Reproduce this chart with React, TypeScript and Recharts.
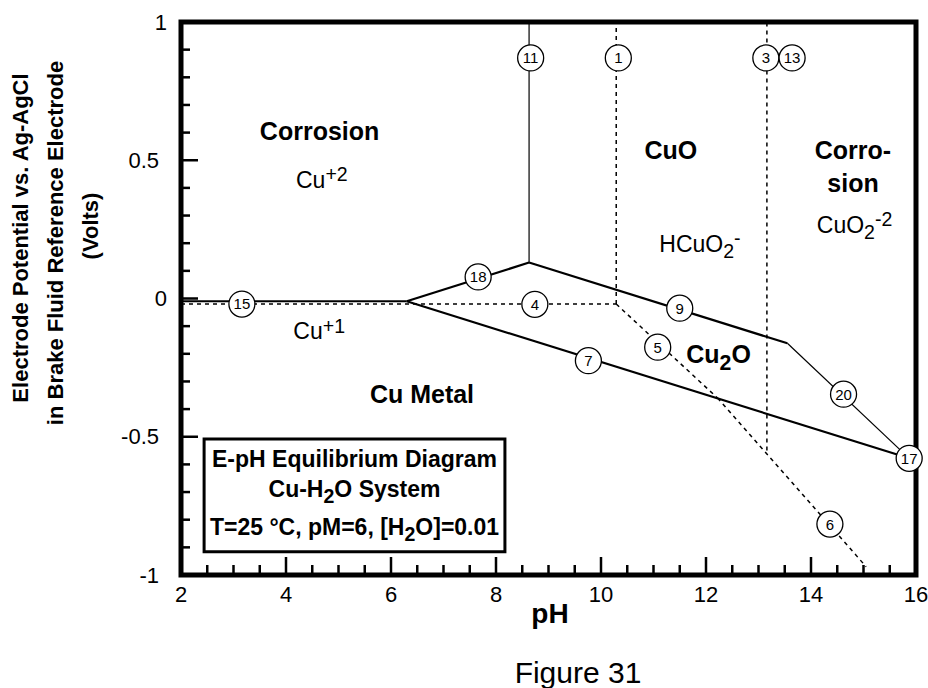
import React from 'react';
import {
  ComposedChart,
  Line,
  Scatter,
  XAxis,
  YAxis,
  ReferenceArea,
  Label,
} from 'recharts';

const FONT = '"Liberation Sans", Arial, Helvetica, sans-serif';

// tick values (minor every 0.5 pH / 0.1 V)
const phTicks = [2, 2.5, 3, 3.5, 4, 4.5, 5, 5.5, 6, 6.5, 7, 7.5, 8, 8.5, 9, 9.5, 10, 10.5, 11, 11.5, 12, 12.5, 13, 13.5, 14, 14.5, 15, 15.5, 16];
const eTicks = [-1, -0.9, -0.8, -0.7, -0.6, -0.5, -0.4, -0.3, -0.2, -0.1, 0, 0.1, 0.2, 0.3, 0.4, 0.5, 0.6, 0.7, 0.8, 0.9, 1];

// solid equilibrium lines
const line15 = [{ ph: 2, e: -0.01 }, { ph: 6.3, e: -0.01 }];
const line18 = [{ ph: 6.3, e: -0.01 }, { ph: 8.63, e: 0.13 }];
const line11 = [{ ph: 8.63, e: 0.13 }, { ph: 8.63, e: 1 }];
const line9 = [{ ph: 8.63, e: 0.13 }, { ph: 13.55, e: -0.162 }];
const line20 = [{ ph: 13.55, e: -0.162 }, { ph: 15.87, e: -0.578 }];
const line7 = [{ ph: 6.3, e: -0.01 }, { ph: 15.87, e: -0.578 }];

// dashed lines
const line4 = [{ ph: 2, e: -0.02 }, { ph: 10.29, e: -0.02 }];
const line1 = [{ ph: 10.29, e: -0.02 }, { ph: 10.29, e: 1 }];
const line3 = [{ ph: 13.16, e: -0.55 }, { ph: 13.16, e: 1 }];
const line5 = [{ ph: 10.29, e: -0.02 }, { ph: 12.22, e: -0.36 }];
const line6 = [{ ph: 12.22, e: -0.36 }, { ph: 15.05, e: -0.97 }];

// numbered circles
const markers = [
  { ph: 3.16, e: -0.02, n: '15' },
  { ph: 7.66, e: 0.078, n: '18' },
  { ph: 8.66, e: 0.87, n: '11' },
  { ph: 10.33, e: 0.87, n: '1' },
  { ph: 13.14, e: 0.87, n: '3' },
  { ph: 13.64, e: 0.87, n: '13' },
  { ph: 8.74, e: -0.021, n: '4' },
  { ph: 11.5, e: -0.035, n: '9' },
  { ph: 11.08, e: -0.176, n: '5' },
  { ph: 9.76, e: -0.225, n: '7' },
  { ph: 14.62, e: -0.346, n: '20' },
  { ph: 15.87, e: -0.578, n: '17' },
  { ph: 14.36, e: -0.816, n: '6' },
];

// region names (bold, centred)
const regionNames = [
  { ph: 4.64, e: 0.573, parts: [{ t: 'Corrosion' }] },
  { ph: 11.33, e: 0.505, parts: [{ t: 'CuO' }] },
  { ph: 14.8, e: 0.505, parts: [{ t: 'Corro-' }] },
  { ph: 14.8, e: 0.386, parts: [{ t: 'sion' }] },
  { ph: 6.59, e: -0.377, parts: [{ t: 'Cu Metal' }] },
  { ph: 12.24, e: -0.234, parts: [{ t: 'Cu' }, { t: '2', sub: true }, { t: 'O' }] },
];

// dissolved species (regular, left aligned)
const speciesNames = [
  { ph: 4.19, e: 0.4, parts: [{ t: 'Cu' }, { t: '+2', sup: true }] },
  { ph: 11.11, e: 0.169, parts: [{ t: 'HCuO' }, { t: '2', sub: true }, { t: '-', sup: true }] },
  { ph: 14.11, e: 0.237, parts: [{ t: 'CuO' }, { t: '2', sub: true }, { t: '-2', sup: true }] },
  { ph: 4.14, e: -0.148, parts: [{ t: 'Cu' }, { t: '+1', sup: true }] },
];

const boxLines = [
  [{ t: 'E-pH Equilibrium Diagram' }],
  [{ t: 'Cu-H' }, { t: '2', sub: true }, { t: 'O System' }],
  [{ t: 'T=25 °C, pM=6, [H' }, { t: '2', sub: true }, { t: 'O]=0.01' }],
];

type Part = { t: string; sub?: boolean; sup?: boolean };

function Rich({ x, y, parts, size, bold, anchor }: any) {
  let shift = 0;
  return (
    <text
      x={x}
      y={y}
      textAnchor={anchor}
      fontSize={size}
      fontWeight={bold ? 'bold' : 'normal'}
      fontFamily={FONT}
      fill="#000"
    >
      {(parts as Part[]).map((p, i) => {
        const target = p.sub ? size * 0.27 : p.sup ? -size * 0.3 : 0;
        const dy = target - shift;
        shift = target;
        return (
          <tspan key={i} dy={dy} fontSize={p.sub || p.sup ? size * 0.85 : size}>
            {p.t}
          </tspan>
        );
      })}
    </text>
  );
}

const isMajorPh = (v: number) => Math.abs(v / 2 - Math.round(v / 2)) < 1e-6;
const isMajorE = (v: number) => Math.abs(v * 2 - Math.round(v * 2)) < 1e-6;

function BottomTick({ x, y, payload }: any) {
  const v = payload.value;
  const major = isMajorPh(v);
  return (
    <g>
      <line x1={x} y1={y} x2={x} y2={y - (major ? 18 : 10)} stroke="#000" strokeWidth={2.5} />
      {major && (
        <text x={x} y={y + 27} textAnchor="middle" fontSize={22} fontFamily={FONT} fill="#000">
          {v}
        </text>
      )}
    </g>
  );
}

function TopTick({ x, y, payload }: any) {
  const major = isMajorPh(payload.value);
  return <line x1={x} y1={y} x2={x} y2={y + (major ? 18 : 10)} stroke="#000" strokeWidth={2.5} />;
}

function LeftTick({ x, y, payload }: any) {
  const v = payload.value;
  const major = isMajorE(v);
  const dx = v === 0 || v === 1 ? 14 : 22;
  return (
    <g>
      <line x1={x} y1={y} x2={x + (major ? 17 : 9)} y2={y} stroke="#000" strokeWidth={2.5} />
      {major && (
        <text x={x - dx} y={y + 7.5} textAnchor="end" fontSize={22} fontFamily={FONT} fill="#000">
          {v}
        </text>
      )}
    </g>
  );
}

function RightTick({ x, y, payload }: any) {
  const major = isMajorE(payload.value);
  return <line x1={x} y1={y} x2={x - (major ? 17 : 9)} y2={y} stroke="#000" strokeWidth={2.5} />;
}

function Marker({ cx, cy, payload }: any) {
  return (
    <g>
      <circle cx={cx} cy={cy} r={13} fill="#fff" stroke="#000" strokeWidth={1.3} />
      <text x={cx} y={cy + 5.4} textAnchor="middle" fontSize={15} fontFamily={FONT} fill="#000">
        {payload.n}
      </text>
    </g>
  );
}

function RegionName({ cx, cy, payload }: any) {
  return <Rich x={cx} y={cy} parts={payload.parts} size={25} bold anchor="middle" />;
}

function SpeciesName({ cx, cy, payload }: any) {
  return <Rich x={cx} y={cy} parts={payload.parts} size={23} anchor="start" />;
}

function BoxText({ viewBox }: any) {
  const cx = viewBox.x + viewBox.width / 2;
  const offsets = [28, 58, 96];
  return (
    <g>
      {boxLines.map((parts, i) => (
        <Rich key={i} x={cx} y={viewBox.y + offsets[i]} parts={parts} size={23} bold anchor="middle" />
      ))}
    </g>
  );
}

function BottomTitles({ viewBox }: any) {
  return (
    <g>
      <text x={viewBox.x + 369} y={viewBox.y + 48} textAnchor="middle" fontSize={28} fontWeight="bold" fontFamily={FONT} fill="#000">
        pH
      </text>
      <text x={viewBox.x + 397} y={viewBox.y + 108} textAnchor="middle" fontSize={30} fontFamily={FONT} fill="#000">
        Figure 31
      </text>
    </g>
  );
}

function LeftTitle({ viewBox }: any) {
  const rows = [
    { t: 'Electrode Potential vs. Ag-AgCl', dx: -153, cy: 238 },
    { t: 'in Brake Fluid Reference Electrode', dx: -118, cy: 243 },
    { t: '(Volts)', dx: -83, cy: 226 },
  ];
  return (
    <g>
      {rows.map((r, i) => {
        const x = viewBox.x + viewBox.width + r.dx;
        const y = r.cy;
        return (
          <text
            key={i}
            x={x}
            y={y}
            transform={`rotate(-90, ${x}, ${y})`}
            textAnchor="middle"
            fontSize={22}
            fontWeight="bold"
            fontFamily={FONT}
            fill="#000"
          >
            {r.t}
          </text>
        );
      })}
    </g>
  );
}

const solid = { stroke: '#000', dot: false, activeDot: false, isAnimationActive: false } as const;

export default function App() {
  return (
    <div style={{ position: 'absolute', left: 0, top: 0, width: 928, height: 688, background: '#fff' }}>
      <ComposedChart width={928} height={688} margin={{ top: 21, right: 11, bottom: 112, left: 180 }}>
        <XAxis
          xAxisId="b"
          dataKey="ph"
          type="number"
          domain={[2, 16]}
          ticks={phTicks}
          interval={0}
          height={1}
          axisLine={false}
          tickLine={false}
          tickSize={0}
          tickMargin={0}
          tick={(p: any) => <BottomTick {...p} />}
          label={(p: any) => <BottomTitles {...p} />}
        />
        <XAxis
          xAxisId="t"
          orientation="top"
          type="number"
          domain={[2, 16]}
          ticks={phTicks}
          interval={0}
          height={1}
          axisLine={false}
          tickLine={false}
          tickSize={0}
          tickMargin={0}
          tick={(p: any) => <TopTick {...p} />}
        />
        <YAxis
          yAxisId="l"
          dataKey="e"
          type="number"
          domain={[-1, 1]}
          ticks={eTicks}
          interval={0}
          width={1}
          axisLine={false}
          tickLine={false}
          tickSize={0}
          tickMargin={0}
          tick={(p: any) => <LeftTick {...p} />}
          label={(p: any) => <LeftTitle {...p} />}
        />
        <YAxis
          yAxisId="r"
          orientation="right"
          type="number"
          domain={[-1, 1]}
          ticks={eTicks}
          interval={0}
          width={1}
          axisLine={false}
          tickLine={false}
          tickSize={0}
          tickMargin={0}
          tick={(p: any) => <RightTick {...p} />}
        />

        <ReferenceArea xAxisId="b" yAxisId="l" x1={2} x2={16} y1={-1} y2={1} fill="none" stroke="#000" strokeWidth={5} />
        <ReferenceArea
          xAxisId="b"
          yAxisId="l"
          x1={2.44}
          x2={8.17}
          y1={-0.916}
          y2={-0.508}
          fill="#fff"
          fillOpacity={1}
          stroke="#000"
          strokeWidth={3}
        >
          <Label content={<BoxText />} />
        </ReferenceArea>

        <Line xAxisId="b" yAxisId="l" data={line4} dataKey="e" {...solid} strokeWidth={1.5} strokeDasharray="4 4" />
        <Line xAxisId="b" yAxisId="l" data={line1} dataKey="e" {...solid} strokeWidth={1.5} strokeDasharray="4 4" />
        <Line xAxisId="b" yAxisId="l" data={line3} dataKey="e" {...solid} strokeWidth={1.5} strokeDasharray="4 4" />
        <Line xAxisId="b" yAxisId="l" data={line5} dataKey="e" {...solid} strokeWidth={1.5} strokeDasharray="4 4" />
        <Line xAxisId="b" yAxisId="l" data={line6} dataKey="e" {...solid} strokeWidth={1.5} strokeDasharray="4 4" />

        <Line xAxisId="b" yAxisId="l" data={line15} dataKey="e" {...solid} strokeWidth={2} />
        <Line xAxisId="b" yAxisId="l" data={line18} dataKey="e" {...solid} strokeWidth={2.2} />
        <Line xAxisId="b" yAxisId="l" data={line11} dataKey="e" {...solid} strokeWidth={1.2} />
        <Line xAxisId="b" yAxisId="l" data={line9} dataKey="e" {...solid} strokeWidth={2.2} />
        <Line xAxisId="b" yAxisId="l" data={line20} dataKey="e" {...solid} strokeWidth={1.2} />
        <Line xAxisId="b" yAxisId="l" data={line7} dataKey="e" {...solid} strokeWidth={2.2} />

        <Scatter xAxisId="b" yAxisId="l" data={markers} shape={(p: any) => <Marker {...p} />} isAnimationActive={false} />
        <Scatter xAxisId="b" yAxisId="l" data={regionNames} shape={(p: any) => <RegionName {...p} />} isAnimationActive={false} />
        <Scatter xAxisId="b" yAxisId="l" data={speciesNames} shape={(p: any) => <SpeciesName {...p} />} isAnimationActive={false} />
      </ComposedChart>
    </div>
  );
}
